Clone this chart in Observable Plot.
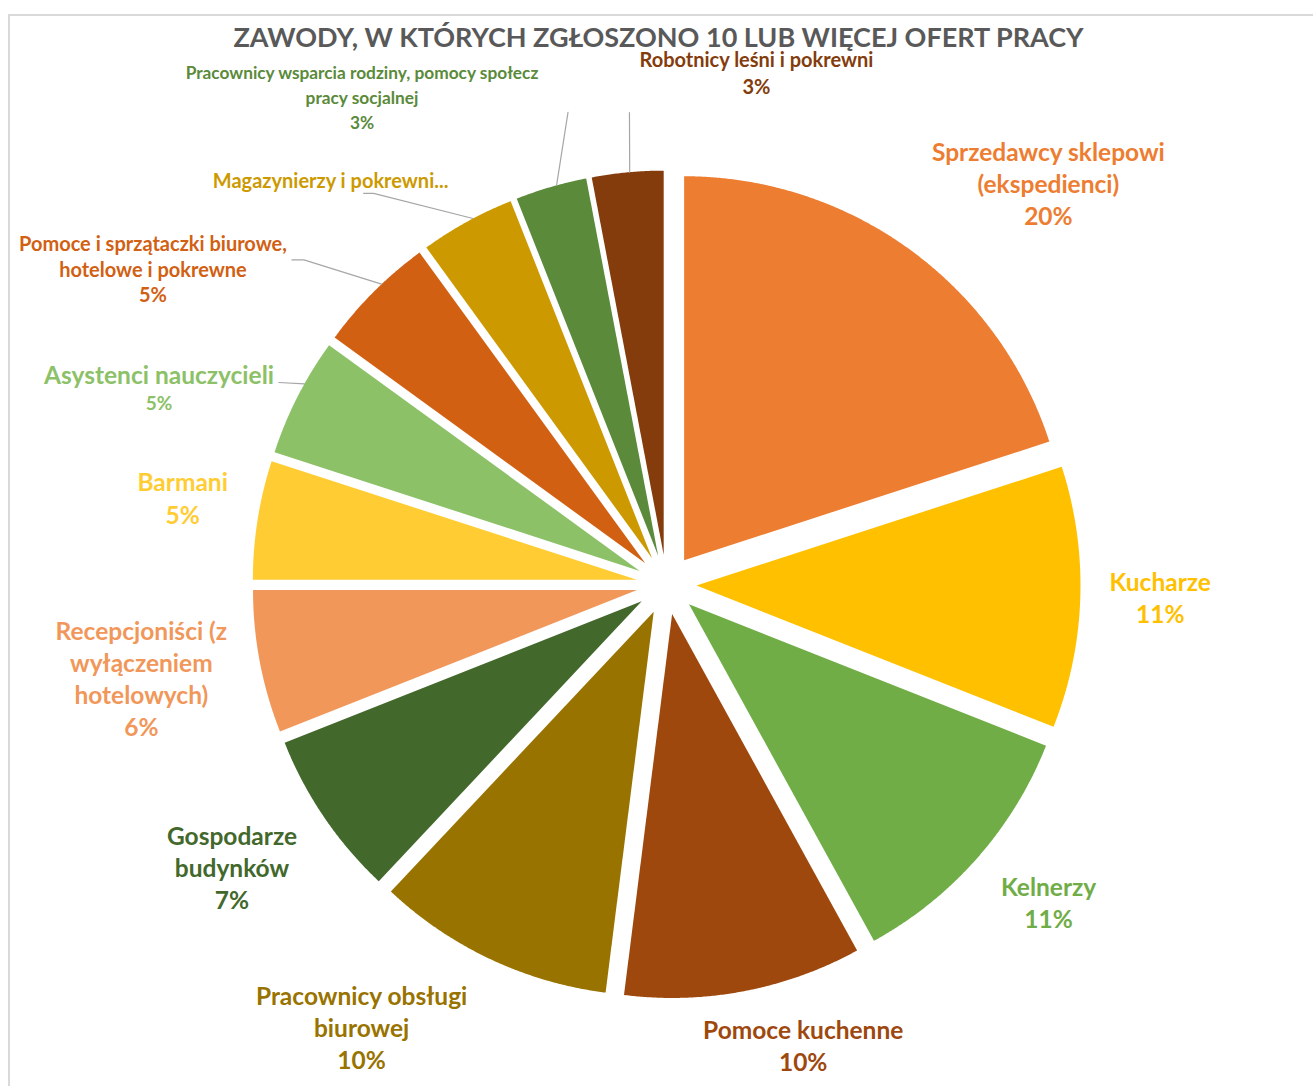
<!DOCTYPE html>
<html><head><meta charset="utf-8">
<script src="https://cdn.jsdelivr.net/npm/d3@7"></script>
<script src="https://cdn.jsdelivr.net/npm/@observablehq/plot@0.6"></script>
<style>
html,body{margin:0;padding:0;background:#fff;overflow:hidden;width:1313px;height:1086px;}
#frame{position:absolute;left:8px;top:14px;width:1400px;height:1200px;border-left:2px solid #D9D9D9;border-top:2px solid #D9D9D9;}
#chart{position:absolute;left:0;top:0;}
#title{position:absolute;left:0;width:1317px;top:22px;text-align:center;font-family:Lato,sans-serif;font-weight:bold;font-size:27px;line-height:30px;color:#595959;white-space:nowrap;}
</style></head><body>
<div id="frame"></div>
<div id="chart"></div>
<div id="title">ZAWODY, W KTÓRYCH ZGŁOSZONO 10 LUB WIĘCEJ OFERT PRACY</div>
<script>
// ---------- data ----------
const categories = [
  "Sprzedawcy sklepowi (ekspedienci)",
  "Kucharze",
  "Kelnerzy",
  "Pomoce kuchenne",
  "Pracownicy obsługi biurowej",
  "Gospodarze budynków",
  "Recepcjoniści (z wyłączeniem hotelowych)",
  "Barmani",
  "Asystenci nauczycieli",
  "Pomoce i sprzątaczki biurowe, hotelowe i pokrewne",
  "Magazynierzy i pokrewni",
  "Pracownicy wsparcia rodziny, pomocy społecznej i pracy socjalnej",
  "Robotnicy leśni i pokrewni"
];
const values = [20, 11, 11, 10, 10, 7, 6, 5, 5, 5, 4, 3, 3];
const colors = [
  "#ED7D31", "#FFC000", "#70AD47", "#9E480E", "#997300", "#43682B",
  "#F1975A", "#FFCD33", "#8CC168", "#D26012", "#CC9A00", "#5A8A3A", "#843C0C"
];
const labelTexts = [
  "Sprzedawcy sklepowi\n(ekspedienci)",
  "Kucharze",
  "Kelnerzy",
  "Pomoce kuchenne",
  "Pracownicy obsługi\nbiurowej",
  "Gospodarze\nbudynków",
  "Recepcjoniści (z\nwyłączeniem\nhotelowych)",
  "Barmani",
  "Asystenci nauczycieli",
  "Pomoce i sprzątaczki biurowe,\nhotelowe i pokrewne",
  "Magazynierzy i pokrewni...",
  "Pracownicy wsparcia rodziny, pomocy społecz\npracy socjalnej",
  "Robotnicy leśni i pokrewni"
];
const showPercent = [true, true, true, true, true, true, true, true, true, true, false, true, true];
const title = "ZAWODY, W KTÓRYCH ZGŁOSZONO 10 LUB WIĘCEJ OFERT PRACY";

// ---------- layout (pixels) ----------
const W = 1313, H = 1086;
const CX = 666, CY = 584;      // pie centre
const R = 384;                 // pie radius
const EXPLODE = 30;            // slice offset
const LABEL_RHO = 500;
// per label: name font size, percent font size, line spacing, nudge [dx,dy]
const labelStyle = [
  [24.5, 24.5, 32, [88, -27]],
  [24.5, 24.5, 32, [-6, -17]],
  [24.5, 24.5, 32, [7, -27]],
  [24.5, 24.5, 32, [43, -44]],
  [24.5, 24.5, 32, [-92, -40]],
  [24.5, 24.5, 32, [-21, -28]],
  [24.5, 24.5, 32, [-34, -46]],
  [24.5, 24.5, 33, [10, -23]],
  [24.5, 19, 27, [-62, 19]],
  [20, 20, 25.5, [-160, 14]],
  [20, 20, 26, [-95, 35]],
  [17.3, 17.3, 25, [-165, -31]],
  [20, 20, 27, [137, -26]]
];
// leader lines: category index, position along slice arc (0..1), label-side points relative to label anchor
const leaders = [
  [8, 0.62, [[120, 6]]],
  [9, 0.59, [[139, 15], [151, 15]]],
  [10, 0.57, [[33, 12], [43, 12]]],
  [11, 0.58, [[206, 39]]],
  [12, 0.53, [[-127, 52]]]
];

document.getElementById("title").textContent = title;

const total = d3.sum(values);
const arcs = d3.pie().sort(null).value(d => d)(values);
const dir = a => [Math.sin(a), -Math.cos(a)];

// slice polygons
const slicePts = [];
arcs.forEach((a, i) => {
  const m = (a.startAngle + a.endAngle) / 2;
  const [ux, uy] = dir(m);
  const ax = ux * EXPLODE, ay = uy * EXPLODE;
  slicePts.push({name: categories[i], x: ax, y: ay});
  const n = Math.max(2, Math.ceil((a.endAngle - a.startAngle) / (Math.PI / 720)));
  for (let k = 0; k <= n; k++) {
    const t = a.startAngle + (a.endAngle - a.startAngle) * k / n;
    const [vx, vy] = dir(t);
    slicePts.push({name: categories[i], x: ax + R * vx, y: ay + R * vy});
  }
  slicePts.push({name: categories[i], x: ax, y: ay});
});

// label anchors
const anchors = arcs.map((a, i) => {
  const m = (a.startAngle + a.endAngle) / 2;
  const [ux, uy] = dir(m);
  const nd = labelStyle[i][3];
  return [ux * LABEL_RHO + nd[0], uy * LABEL_RHO + nd[1]];
});

const labelRows = [];
arcs.forEach((a, i) => {
  const [nameSize, pctSize, spacing] = labelStyle[i];
  const lines = labelTexts[i].split("\n").map(t => ({t, fs: nameSize}));
  if (showPercent[i]) lines.push({t: Math.round(values[i] / total * 100) + "%", fs: pctSize});
  lines.forEach((l, k) => {
    labelRows.push({name: categories[i], text: l.t, fs: l.fs, x: anchors[i][0], y: anchors[i][1] + k * spacing});
  });
});

// leader lines
const leaderPts = [];
leaders.forEach(([i, f, pts]) => {
  const a = arcs[i];
  const m = (a.startAngle + a.endAngle) / 2;
  const [ux, uy] = dir(m);
  pts.forEach(([dx, dy]) => leaderPts.push({name: categories[i], x: anchors[i][0] + dx, y: anchors[i][1] + dy}));
  const t = a.startAngle + (a.endAngle - a.startAngle) * f;
  const [vx, vy] = dir(t);
  leaderPts.push({name: categories[i], x: ux * EXPLODE + R * vx, y: uy * EXPLODE + R * vy});
});

const chart = Plot.plot({
  width: W, height: H, margin: 0,
  style: {background: "transparent", fontFamily: "Lato, sans-serif"},
  x: {domain: [-CX, W - CX], axis: null},
  y: {domain: [-CY, H - CY], reverse: true, axis: null},
  color: {domain: categories, range: colors},
  marks: [
    Plot.line(slicePts, {x: "x", y: "y", z: "name", fill: "name", stroke: "none", curve: "linear"}),
    Plot.line(leaderPts, {x: "x", y: "y", z: "name", stroke: "#A6A6A6", strokeWidth: 1.2, curve: "linear"}),
    Plot.text(labelRows, {x: "x", y: "y", text: "text", fill: "name", fontSize: "fs", fontWeight: "bold", fontFamily: "Lato, sans-serif"})
  ]
});
document.getElementById("chart").appendChild(chart);
</script>
</body></html>
